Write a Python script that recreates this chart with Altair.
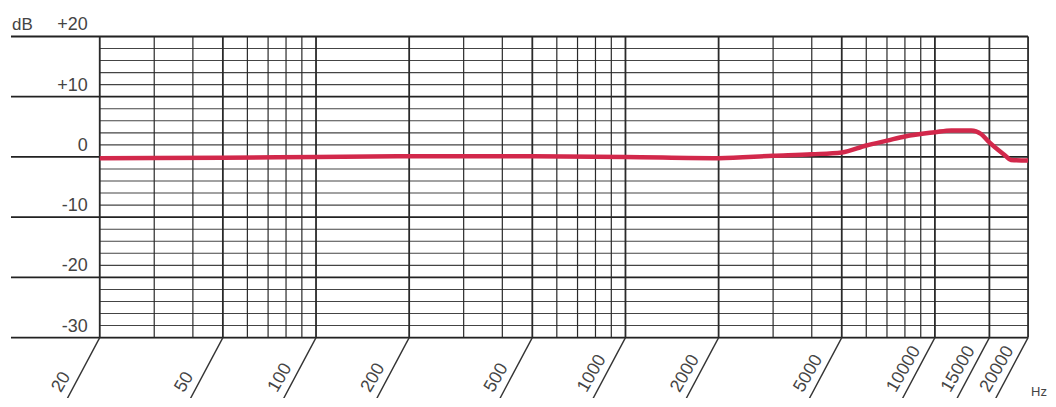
import altair as alt
import pandas as pd

# ---- data ----
resp_freq = [20, 50, 100, 200, 500, 1000, 2000, 3000, 4000, 5000, 6000, 7000, 8000,
             10000, 11300, 13100, 14100, 15000, 16900, 17600, 20000]
resp_db = [-0.2, -0.15, 0.0, 0.1, 0.1, 0.0, -0.2, 0.2, 0.45, 0.75, 1.9, 2.7, 3.4,
           4.1, 4.4, 4.4, 3.8, 2.4, 0.2, -0.5, -0.6]

grid_freq = [20, 30, 40, 50, 60, 70, 80, 90,
             100, 200, 300, 400, 500, 600, 700, 800, 900,
             1000, 2000, 3000, 4000, 5000, 6000, 7000, 8000, 9000,
             10000, 15000, 20000]
label_freq = [20, 50, 100, 200, 500, 1000, 2000, 5000, 10000, 15000, 20000]
label_text = ["20", "50", "100", "200", "500", "1000", "2000", "5000", "10000", "15000", "20000"]

major_db = [20, 10, 0, -10, -20, -30]
major_text = ["+20", "+10", "0", "-10", "-20", "-30"]
minor_db = [18, 16, 14, 12, 8, 6, 4, 2, -2, -4, -6, -8, -12, -14, -16, -18,
            -22, -24, -26, -28]

W, H = 931, 302
FONT = "Liberation Sans"

xs = alt.Scale(type="log", domain=[20, 20000], nice=False)
ys = alt.Scale(domain=[-30, 20], nice=False, zero=False)

resp = pd.DataFrame({"f": resp_freq, "db": resp_db})
gridf = pd.DataFrame({"f": grid_freq, "major": [f in label_freq for f in grid_freq]})
labs = pd.DataFrame({"f": label_freq, "t": label_text})
maj = pd.DataFrame({"db": major_db, "t": major_text})
mino = pd.DataFrame({"db": minor_db})

X = lambda: alt.X("f:Q", scale=xs, axis=None)
Y = lambda: alt.Y("db:Q", scale=ys, axis=None)

minor_h = alt.Chart(mino).mark_rule(color="#444", strokeWidth=1.1).encode(
    y=Y(), x=alt.value(0), x2=alt.value(W))
major_h = alt.Chart(maj).mark_rule(color="#222", strokeWidth=1.8).encode(
    y=Y(), x=alt.value(-89), x2=alt.value(W))
vert = alt.Chart(gridf).mark_rule(color="#2a2a2a").encode(
    x=X(), y=alt.value(0), y2=alt.value(H),
    strokeWidth=alt.condition("datum.major", alt.value(1.8), alt.value(1.2)))
slant = alt.Chart(labs).mark_rule(color="#333", strokeWidth=1.4, x2Offset=-33, y2Offset=62).encode(
    x=X(), x2="f:Q", y=alt.value(H), y2=alt.value(H))
xlab = alt.Chart(labs).mark_text(angle=300, align="left", baseline="middle", dx=-68, dy=-11,
                                 font=FONT, fontSize=18, color="#444").encode(
    x=X(), y=alt.value(H), text="t:N")
ylab = alt.Chart(maj).mark_text(align="right", baseline="alphabetic", dy=-6,
                                font=FONT, fontSize=18, color="#444").encode(
    y=Y(), x=alt.value(-12), text="t:N")
db_lab = alt.Chart(pd.DataFrame({"db": [20], "t": ["dB"]})).mark_text(
    align="left", baseline="alphabetic", dy=-6, font=FONT, fontSize=17, color="#444").encode(
    y=Y(), x=alt.value(-88), text="t:N")
hz_lab = alt.Chart(pd.DataFrame({"t": ["Hz"]})).mark_text(
    align="left", baseline="alphabetic", font=FONT, fontSize=13, color="#444").encode(
    x=alt.value(W + 3), y=alt.value(H + 59), text="t:N")
line = alt.Chart(resp).mark_line(color="#d2284b", strokeWidth=4.5, interpolate="monotone").encode(
    x=X(), y=Y())

chart = alt.layer(minor_h, major_h, vert, slant, xlab, ylab, db_lab, hz_lab, line).properties(
    width=W, height=H,
    autosize=alt.AutoSizeParams(type="none"),
    padding={"left": 92, "top": 28, "right": 20, "bottom": 60},
).configure_view(stroke=None).configure(background="white")

chart.save("out.html", embed_options={"renderer": "svg", "actions": False})
